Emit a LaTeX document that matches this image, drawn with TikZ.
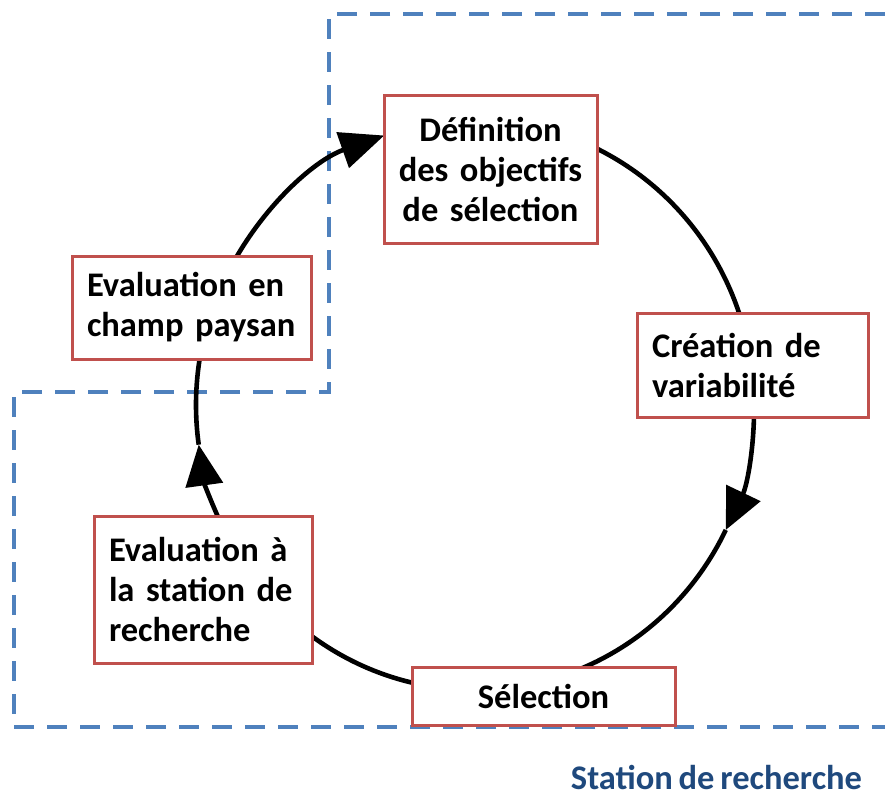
\documentclass[tikz,border=0pt]{standalone}
\usepackage{fontspec}
\setmainfont{Carlito}[WordSpace=0.75]
\usetikzlibrary{arrows.meta}
\definecolor{boxred}{RGB}{192,80,77}
\definecolor{dashblue}{RGB}{79,129,189}
\definecolor{labelblue}{RGB}{31,73,125}
\begin{document}
\begin{tikzpicture}[x=1pt,y=1pt,
  stagebox/.style={draw=boxred, line width=3pt, fill=white,
    font=\fontsize{34.5}{40}\selectfont\bfseries, inner xsep=15pt, inner ysep=0pt},
  cyc/.style={line width=4.6pt, black},
  tipend/.style={-{Triangle[length=44pt,width=37pt]}},
  tipmid/.style={-{Triangle[length=41pt,width=37pt]}},
  ell/.style={x radius=279pt, y radius=285pt},
  zone/.style={dashblue, line width=4pt, dash pattern=on 20pt off 13pt}]
\useasboundingbox (0,0) rectangle (885,-796);

% research station zone
\draw[zone] (885,-14) -- (329,-14) -- (329,-392) -- (14,-392) -- (14,-727) -- (885,-727);

% points on the cycle
\coordinate (O) at (475,-405);
\path (O) ++(156:279pt and 285pt) coordinate (champOut);
\path (O) ++(80:279pt and 285pt) coordinate (defOut);
\path (O) ++(5:279pt and 285pt) coordinate (creOut);
\path (O) ++(-26:279pt and 285pt) coordinate (tipR);
\path (O) ++(-95:279pt and 285pt) coordinate (selOut);
\path (O) ++(-150:279pt and 285pt) coordinate (staOut);
\path (O) ++(-172:279pt and 285pt) coordinate (tipL);

% cycle arcs
\draw[cyc,tipend] (champOut) arc[start angle=156,end angle=109,ell];
\draw[cyc] (defOut) arc[start angle=80,end angle=10,ell];
\draw[cyc,tipmid] (creOut) arc[start angle=5,end angle=-26,ell];
\draw[cyc] (tipR) arc[start angle=-26,end angle=-75,ell];
\draw[cyc] (selOut) arc[start angle=-95,end angle=-135,ell];
\draw[cyc,tipmid] (staOut) arc[start angle=-150,end angle=-172,ell];
\draw[cyc] (tipL) arc[start angle=-172,end angle=-190,ell];

% stages
\node[stagebox, inner xsep=4pt, text width=205pt, align=center, minimum height=148pt] (def) at (490.5,-169)
  {Définition\\des objectifs\\de sélection};
\node[stagebox, text width=201pt, align=left, minimum height=104pt] (cre) at (752.5,-365)
  {Création de\\variabilité};
\node[stagebox, text width=233pt, align=center, minimum height=58pt] (sel) at (543.5,-696)
  {Sélection};
\node[stagebox, text width=188pt, align=left, minimum height=147pt] (sta) at (203,-589.5)
  {Evaluation à\\la station de\\recherche};
\node[stagebox, text width=209pt, align=left, minimum height=103pt] (champ) at (191.5,-307.5)
  {Evaluation en\\champ paysan};

\node[font=\fontsize{34.5}{40}\selectfont\bfseries, text=labelblue, anchor=base, inner sep=0pt] (lab) at (716.5,-789)
  {Station de recherche};
\end{tikzpicture}
\end{document}
